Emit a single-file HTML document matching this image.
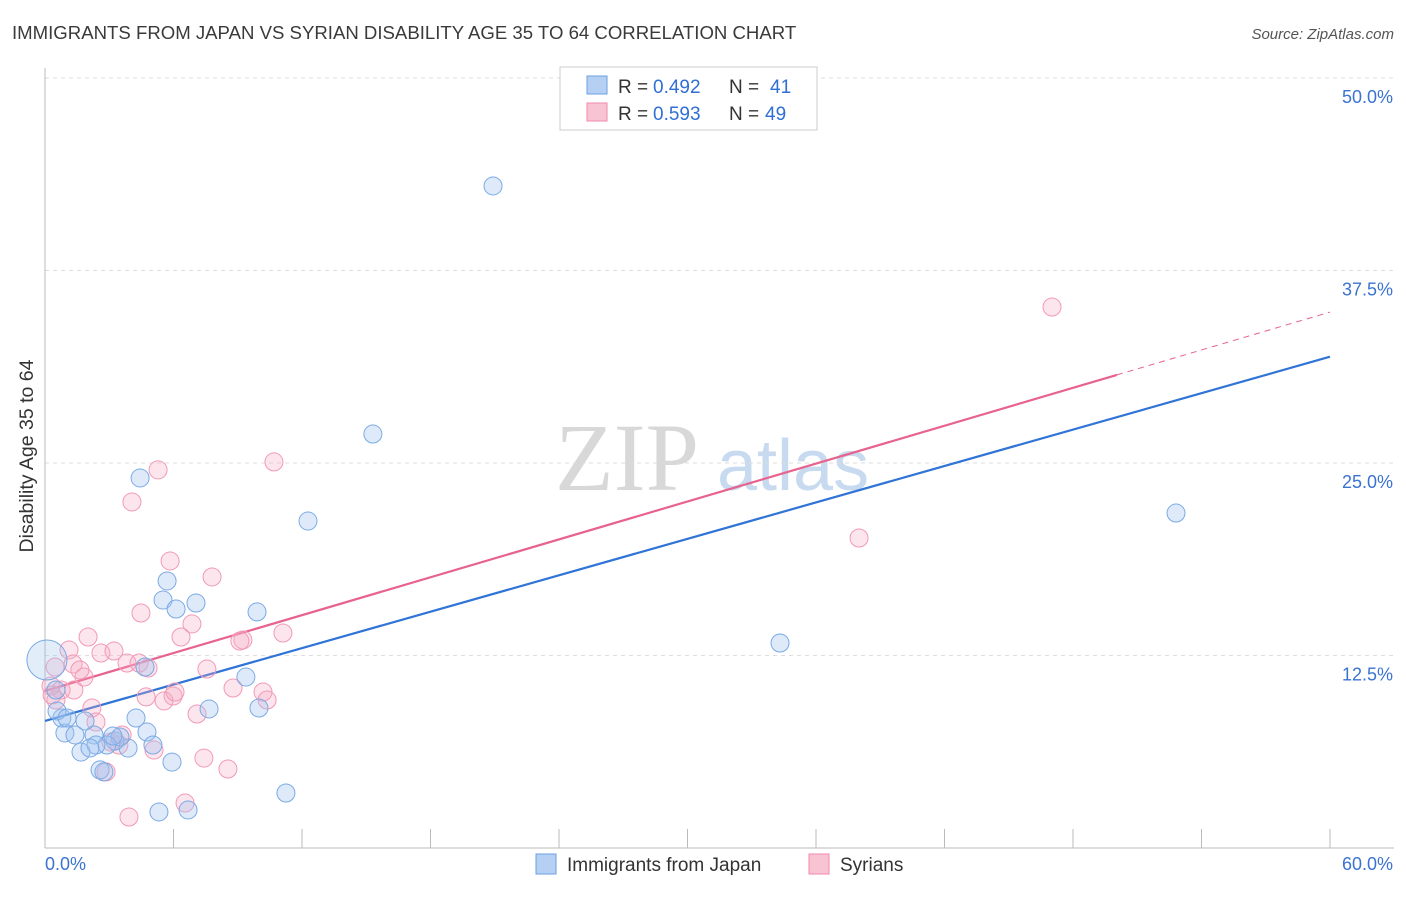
<!DOCTYPE html>
<html><head><meta charset="utf-8"><style>
body{margin:0;background:#fff;font-family:"Liberation Sans",sans-serif;}
</style></head><body>
<svg width="1406" height="892" xmlns="http://www.w3.org/2000/svg" style="font-family:'Liberation Sans',sans-serif">
<text x="12" y="39" font-size="18.6" fill="#3a3a3a">IMMIGRANTS FROM JAPAN VS SYRIAN DISABILITY AGE 35 TO 64 CORRELATION CHART</text>
<text x="1394" y="39" font-size="15" fill="#555" text-anchor="end" font-style="italic">Source: ZipAtlas.com</text>
<g>
<text x="555" y="490" font-size="96" fill="#d8d8d8" font-family="Liberation Serif,serif">ZIP</text>
<text x="717" y="490" font-size="72" fill="#c7daf0">atlas</text>
</g>
<g id="grid"></g>
<g id="axes"></g>
<g id="lines"></g>
<g id="pts"></g>
<text transform="translate(33,456) rotate(-90)" font-size="19.5" fill="#333" text-anchor="middle">Disability Age 35 to 64</text>
<g>
<rect x="560" y="67" width="257" height="63" fill="#fff" stroke="#ccc"/>
<rect x="587" y="76" width="20" height="18" fill="#b5d0f3" stroke="#6a9fe0"/>
<rect x="587" y="103" width="20" height="18" fill="#f8c4d4" stroke="#f08aa8"/>
<text x="618" y="93" font-size="19" fill="#333">R =</text>
<text x="653" y="93" font-size="19" fill="#2f6fd6">0.492</text>
<text x="729" y="93" font-size="19" fill="#333">N =</text>
<text x="770" y="93" font-size="19" fill="#2f6fd6">41</text>
<text x="618" y="120" font-size="19" fill="#333">R =</text>
<text x="653" y="120" font-size="19" fill="#2f6fd6">0.593</text>
<text x="729" y="120" font-size="19" fill="#333">N =</text>
<text x="765" y="120" font-size="19" fill="#2f6fd6">49</text>
</g>
<g>
<rect x="536" y="854" width="20" height="20" fill="#b5d0f3" stroke="#6a9fe0"/>
<text x="567" y="871" font-size="19" fill="#333">Immigrants from Japan</text>
<rect x="809" y="854" width="20" height="20" fill="#f8c4d4" stroke="#f08aa8"/>
<text x="840" y="871" font-size="19" fill="#333">Syrians</text>
</g>
</svg>
<script>
const blueX=[4.44,20.92,15.31,12.28,52.81,34.32,5.70,5.51,6.12,7.05,9.90,9.38,7.66,9.99,4.25,4.76,5.04,3.88,3.27,3.50,2.89,2.29,2.38,1.68,0.93,0.79,0.56,1.87,1.40,2.57,2.75,5.93,5.32,6.68,11.25,4.67,0.09,0.51,3.17,1.03,2.10];
const blueY=[24.03,42.99,26.88,21.23,21.75,13.31,17.34,16.10,15.52,15.91,15.33,11.10,9.03,9.09,8.44,7.53,6.69,6.49,6.95,7.21,6.69,7.34,6.69,6.23,7.47,8.44,8.90,8.25,7.34,5.07,4.94,5.58,2.34,2.47,3.57,11.75,12.21,10.26,7.27,8.44,6.49];
const pinkX=[5.28,4.06,10.69,47.02,38.01,5.84,7.80,4.48,6.86,6.35,9.24,9.10,11.11,2.01,1.12,2.61,3.22,3.83,4.39,4.81,1.31,1.82,1.63,0.47,0.75,1.35,0.28,0.51,4.72,5.98,5.56,6.07,8.78,10.18,10.37,7.56,7.10,2.19,2.38,3.08,3.45,3.60,5.09,7.42,8.54,2.85,6.54,3.92,0.33];
const pinkY=[24.55,22.47,25.07,35.13,20.13,18.64,17.60,15.26,14.55,13.70,13.51,13.44,13.96,13.70,12.86,12.66,12.79,12.01,12.01,11.69,11.95,11.10,11.56,11.75,10.26,10.26,10.52,9.61,9.81,9.87,9.55,10.13,10.39,10.13,9.61,11.62,8.70,9.09,8.18,6.88,6.69,7.34,6.36,5.84,5.13,4.94,2.92,2.01,9.94];
const blueTrend=[8.25,31.9];
const pinkTrend=[10.2,34.8];
const pinkSolidEnd=50.05;
const yTicks=[12.5,25,37.5,50];
const yTickLabels=["12.5%","25.0%","37.5%","50.0%"];
const xTicks=[0,6,12,18,24,30,36,42,48,54,60];
const NS="http://www.w3.org/2000/svg";
const sx=v=>45+v/60*1285, sy=v=>848-v/50*770;
function mk(t,a,p){const e=document.createElementNS(NS,t);for(const k in a)e.setAttribute(k,a[k]);document.getElementById(p).appendChild(e);return e;}
yTicks.forEach((t,i)=>{
 const l=mk('line',{x1:45,x2:1394,y1:sy(t),y2:sy(t),stroke:'#ddd','stroke-dasharray':'4,4'},'grid');
 
 
 const tx=mk('text',{x:1393,y:sy(t)+25,'font-size':18,fill:'#3b73d1','text-anchor':'end'},'grid');
 tx.textContent=yTickLabels[i];
 
 
});
const ax=mk('line',{x1:45,x2:45,y1:68,y2:848,stroke:'#bbb'},'axes');


const bx=mk('line',{x1:45,x2:1394,y1:848,y2:848,stroke:'#bbb'},'axes');


xTicks.forEach(t=>{const l=mk('line',{x1:sx(t),x2:sx(t),y1:829,y2:848,stroke:'#bbb'},'axes');
 
 });
const x0=mk('text',{x:45,y:870,'font-size':18,fill:'#3b73d1'},'axes');x0.textContent='0.0%';


const x1=mk('text',{x:1393,y:870,'font-size':18,fill:'#3b73d1','text-anchor':'end'},'axes');x1.textContent='60.0%';


function dot(x,y,fill,stroke,name,r){const c=mk('circle',{cx:sx(x),cy:sy(y),r:r,fill:fill,stroke:stroke,'stroke-width':1},'pts');
 
 }
pinkX.forEach((x,i)=>dot(x,pinkY[i],'rgba(244,170,195,0.3)','#f29ab5','syrians-point',9));
blueX.forEach((x,i)=>dot(x,blueY[i],i===36?'rgba(160,196,240,0.3)':'rgba(160,196,240,0.35)','#7aaae4','japan-point',i===36?20:9));
const bl=mk('line',{x1:sx(0),y1:sy(blueTrend[0]),x2:sx(60),y2:sy(blueTrend[1]),stroke:'#2f74d6','stroke-width':2.2},'lines');


const pe=pinkTrend[0]+(pinkTrend[1]-pinkTrend[0])*pinkSolidEnd/60;
const pl=mk('line',{x1:sx(0),y1:sy(pinkTrend[0]),x2:sx(pinkSolidEnd),y2:sy(pe),stroke:'#e8628e','stroke-width':2.2},'lines');


const pd=mk('line',{x1:sx(pinkSolidEnd),y1:sy(pe),x2:sx(60),y2:sy(pinkTrend[1]),stroke:'#e8628e','stroke-width':1,'stroke-dasharray':'6,5'},'lines');


</script>
</body></html>
